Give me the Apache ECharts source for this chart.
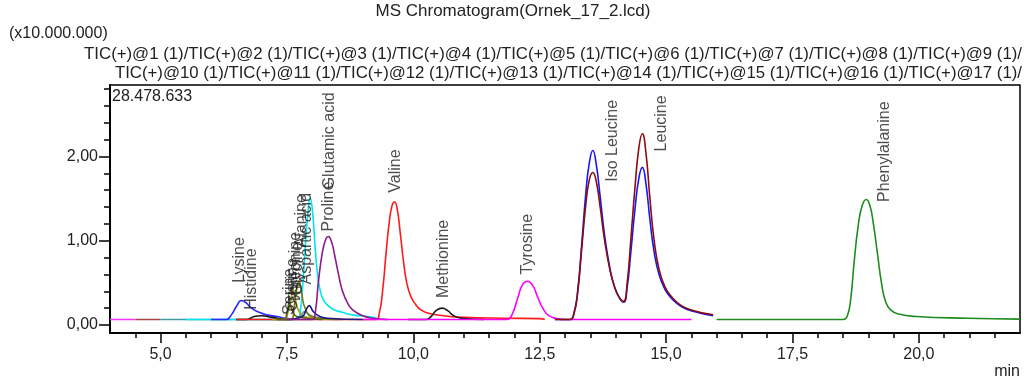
<!DOCTYPE html>
<html>
<head>
<meta charset="utf-8">
<script src="https://cdn.jsdelivr.net/npm/echarts@6/dist/echarts.min.js"></script>
<style>
html,body{margin:0;padding:0;background:#fff;}
#c{width:1026px;height:385px;}
</style>
</head>
<body>
<div id="c"></div>
<script>
// ---------- data (x: retention time in min, y: intensity x10.000.000) ----------
const B = 0.065; // baseline level
const titleText = 'MS Chromatogram(Ornek_17_2.lcd)';
const scaleText = '(x10.000.000)';
const maxText = '28.478.633';
const xMajorTicks = [5, 7.5, 10, 12.5, 15, 17.5, 20];
const xMinorTicks = [4.5,5,5.5,6,6.5,7,7.5,8,8.5,9,9.5,10,10.5,11,11.5,12,12.5,13,13.5,14,14.5,15,15.5,16,16.5,17,17.5,18,18.5,19,19.5,20,20.5,21,21.5];
const yMajorTicks = [0, 1, 2];
const yMinorTicks = [0.2,0.4,0.6,0.8,1.2,1.4,1.6,1.8,2.2,2.4,2.6,2.8];

const tic1 = [[4.0,B],[4.5,B]];
const tic2 = [[4.5,B],[5.0,B]];
const tic3 = [[5.0,B],[7.6,B],[7.75,0.1],[7.85,0.16],[7.95,0.12],[8.1,0.08],[8.6,B]];
const tic4 = [[5.5,B],[7.7,B],[7.76,0.15],[7.81,0.45],[7.86,0.9],[7.91,1.3],[7.96,1.51],[8.01,1.32],[8.06,0.9],[8.11,0.58],[8.17,0.38],[8.25,0.27],[8.4,0.19],[8.6,0.15],[8.8,0.12],[9.2,0.09],[9.3,B]];
const tic5 = [[6.0,B],[6.3,B],[6.4,0.12],[6.5,0.22],[6.6,0.29],[6.68,0.27],[6.8,0.2],[6.95,0.15],[7.1,0.12],[7.3,0.1],[7.45,0.08],[7.55,B]];
const tic6 = [[6.5,B],[6.7,B],[6.85,0.1],[7.0,0.11],[7.2,0.09],[7.4,0.07],[7.5,B]];
const tic7 = [[6.5,B],[9.25,B],[9.33,0.15],[9.4,0.45],[9.46,0.85],[9.52,1.2],[9.58,1.42],[9.63,1.46],[9.68,1.38],[9.74,1.1],[9.8,0.78],[9.87,0.5],[9.95,0.34],[10.05,0.24],[10.15,0.18],[10.3,0.14],[10.6,0.11],[11.0,0.09],[11.8,0.08],[12.5,0.075],[12.6,B]];
const tic8 = [[7.2,B],[7.45,B],[7.52,0.15],[7.58,0.3],[7.62,0.42],[7.67,0.3],[7.75,0.15],[7.9,0.09],[8.4,B]];
const tic9 = [[7.3,B],[7.58,B],[7.65,0.25],[7.7,0.45],[7.74,0.52],[7.79,0.38],[7.86,0.2],[8.0,0.1],[8.5,B]];
const tic10 = [[7.3,B],[7.45,B],[7.5,0.14],[7.55,0.26],[7.6,0.18],[7.7,0.1],[8.2,B]];
const tic11 = [[7.5,B],[7.8,0.1],[7.88,0.18],[7.94,0.23],[8.02,0.16],[8.15,0.1],[8.3,0.08],[9.0,B]];
const tic12 = [[7.5,B],[8.0,B],[8.06,0.15],[8.12,0.5],[8.2,0.86],[8.27,1.02],[8.32,1.05],[8.38,0.99],[8.44,0.84],[8.52,0.6],[8.6,0.4],[8.7,0.26],[8.8,0.18],[9.0,0.11],[9.2,0.08],[9.5,B]];
const tic13 = [[9.9,B],[10.25,B],[10.35,0.1],[10.45,0.17],[10.57,0.2],[10.68,0.17],[10.8,0.11],[10.95,0.08],[11.4,B]];
const tic14 = [[9.0,B],[11.85,B],[11.95,0.12],[12.07,0.33],[12.16,0.48],[12.26,0.52],[12.36,0.47],[12.46,0.33],[12.56,0.2],[12.68,0.11],[12.85,0.075],[13.0,B],[15.5,B]];
const tic15 = [[12.8,B],[13.1,B],[13.18,0.15],[13.25,0.4],[13.33,0.95],[13.41,1.55],[13.48,1.92],[13.55,2.07],[13.62,1.9],[13.7,1.5],[13.78,1.08],[13.88,0.7],[13.98,0.45],[14.08,0.32],[14.16,0.27],[14.23,0.45],[14.3,0.85],[14.38,1.35],[14.46,1.74],[14.53,1.87],[14.6,1.68],[14.68,1.25],[14.76,0.88],[14.86,0.6],[14.98,0.42],[15.1,0.32],[15.3,0.22],[15.55,0.16],[15.93,0.11]];
const tic16 = [[12.8,B],[13.1,B],[13.18,0.14],[13.25,0.38],[13.33,0.9],[13.41,1.42],[13.48,1.72],[13.55,1.81],[13.62,1.7],[13.7,1.38],[13.78,1.02],[13.88,0.68],[13.98,0.45],[14.08,0.32],[14.16,0.28],[14.23,0.5],[14.3,1.0],[14.38,1.6],[14.46,2.1],[14.53,2.27],[14.6,2.05],[14.68,1.5],[14.76,1.02],[14.86,0.66],[14.98,0.45],[15.1,0.34],[15.3,0.23],[15.55,0.17],[15.93,0.12]];
const tic17 = [[16.0,B],[18.5,B],[18.58,0.1],[18.65,0.3],[18.72,0.75],[18.8,1.18],[18.88,1.42],[18.96,1.49],[19.03,1.42],[19.1,1.2],[19.18,0.85],[19.26,0.5],[19.34,0.28],[19.44,0.18],[19.6,0.13],[19.96,0.1],[20.95,0.08],[22,0.07]];

const ticData = [tic1,tic2,tic3,tic4,tic5,tic6,tic7,tic8,tic9,tic10,tic11,tic12,tic13,tic14,tic15,tic16,tic17];
const ticColors = ['#ff33ff','#a84444','#3c9ca0','#00e5ee','#2a2aff','#111111','#ff1a1a','#a0a020','#7a7a10','#5c5c20','#1a1a80','#8b1a8b','#1a1a1a','#ff00ff','#1515ff','#8b0c0c','#1e8c1e'];

const labelNames = ['Lysine','Histidine','Serine','Cystine','Threonine','Glycine','Alanine','Aspartic acid','Glutamic acid','Proline','Valine','Methionine','Tyrosine','Iso Leucine','Leucine','Phenylalanine'];
const labelTimes = [6.56,6.80,7.55,7.61,7.68,7.72,7.78,7.88,8.34,8.32,9.64,10.59,12.26,13.94,14.91,19.33];
const labelHeights = [0.50,0.18,0.12,0.16,0.25,0.35,0.92,0.48,1.61,1.11,1.57,0.32,0.60,1.70,2.06,1.46];

// ---------- chart ----------
const FONT = '"Liberation Sans", Arial, sans-serif';
const TXT = '#222';
const chart = echarts.init(document.getElementById('c'), null, {renderer: 'canvas'});

const lineSeries = ticData.map((d, i) => ({
  name: 'TIC(+)@' + (i + 1) + ' (1)',
  type: 'line',
  data: d,
  xAxisIndex: 0,
  yAxisIndex: 0,
  symbol: 'none',
  showSymbol: false,
  smooth: 0.5,
  lineStyle: {color: ticColors[i], width: 1.6},
  itemStyle: {color: ticColors[i]},
  silent: true,
  z: 2 + i * 0.01
}));

const labelSeries = {
  type: 'scatter',
  xAxisIndex: 0,
  yAxisIndex: 0,
  symbolSize: 1,
  itemStyle: {color: 'rgba(0,0,0,0)'},
  data: labelNames.map((n, i) => ({value: [labelTimes[i], labelHeights[i]], name: n})),
  label: {
    show: true,
    position: 'inside',
    rotate: 90,
    align: 'left',
    verticalAlign: 'middle',
    formatter: p => p.name,
    color: TXT,
    fontFamily: FONT,
    fontSize: 16
  },
  silent: true,
  z: 5
};

const fmtY = v => v.toFixed(2).replace('.', ',');
const fmtX = v => v.toFixed(1).replace('.', ',');

chart.setOption({
  animation: false,
  backgroundColor: '#fff',
  grid: {left: 110, right: 6, top: 85, bottom: 52, show: true, borderColor: '#000', borderWidth: 1.5, backgroundColor: 'transparent'},
  xAxis: [{
    type: 'value', min: 4, max: 22, position: 'bottom',
    axisLine: {show: true, onZero: false, lineStyle: {color: '#000', width: 2}},
    axisTick: {show: true, customValues: xMajorTicks, length: 10, lineStyle: {color: '#000', width: 1.5}},
    axisLabel: {show: true, customValues: xMajorTicks, formatter: fmtX, color: TXT, fontFamily: FONT, fontSize: 16, margin: 14},
    splitLine: {show: false}
  }, {
    type: 'value', min: 4, max: 22, position: 'bottom',
    axisLine: {show: false, onZero: false},
    axisTick: {show: true, customValues: xMinorTicks, length: 5, lineStyle: {color: '#000', width: 1.5}},
    axisLabel: {show: false},
    splitLine: {show: false}
  }],
  yAxis: [{
    type: 'value', min: -0.095, max: 2.848, position: 'left',
    axisLine: {show: true, onZero: false, lineStyle: {color: '#000', width: 2}},
    axisTick: {show: true, customValues: yMajorTicks, length: 11, lineStyle: {color: '#000', width: 1.5}},
    axisLabel: {show: true, customValues: yMajorTicks, formatter: fmtY, color: TXT, fontFamily: FONT, fontSize: 16, margin: 12},
    splitLine: {show: false}
  }, {
    type: 'value', min: -0.095, max: 2.848, position: 'left',
    axisLine: {show: false, onZero: false},
    axisTick: {show: true, customValues: yMinorTicks, length: 6, lineStyle: {color: '#000', width: 1.5}},
    axisLabel: {show: false},
    splitLine: {show: false}
  }],
  graphic: [
    {type: 'text', left: 'center', top: 3, style: {text: titleText, font: '17px ' + FONT, fill: TXT}},
    {type: 'text', left: 9, top: 26, style: {text: scaleText, font: '16px ' + FONT, fill: TXT}},
    {type: 'text', right: 4, top: 46, style: {text: ticData.slice(0, 9).map((d, i) => 'TIC(+)@' + (i + 1) + ' (1)/').join(''), font: '16.8px ' + FONT, fill: TXT}},
    {type: 'text', right: 4, top: 65, style: {text: ticData.slice(9).map((d, i) => 'TIC(+)@' + (i + 10) + ' (1)/').join(''), font: '16.8px ' + FONT, fill: TXT}},
    {type: 'text', left: 112, top: 89, z: 10, style: {text: maxText, font: '16px ' + FONT, fill: TXT}},
    {type: 'text', right: 6, top: 364, style: {text: 'min', font: '16px ' + FONT, fill: TXT}}
  ],
  series: lineSeries.concat([labelSeries])
});
</script>
</body>
</html>
